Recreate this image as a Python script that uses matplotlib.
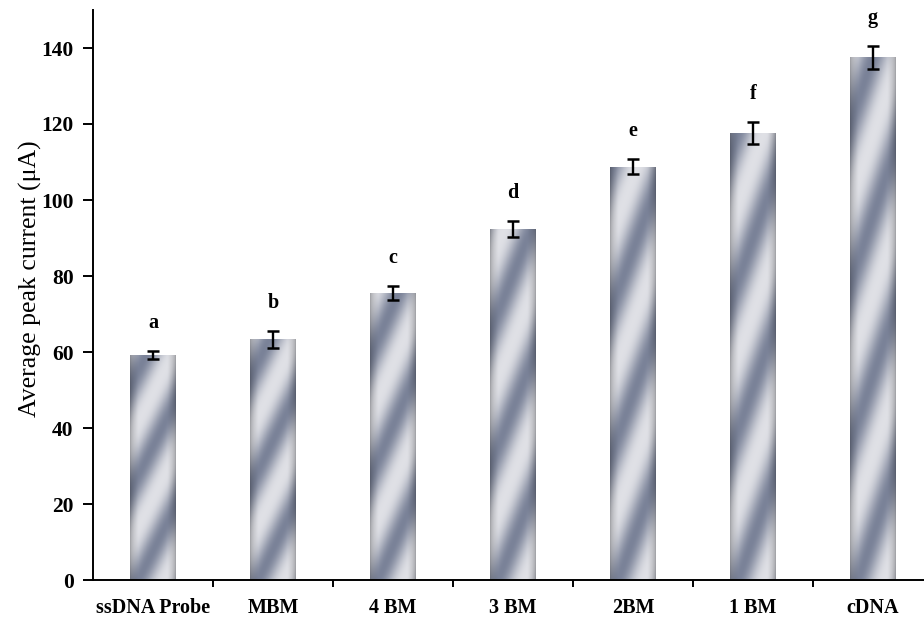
import numpy as np
import matplotlib
matplotlib.use("Agg")
import matplotlib.pyplot as plt
from matplotlib.colors import to_rgb

# Data
categories = ["ssDNA Probe", "MBM", "4 BM", "3 BM", "2BM", "1 BM", "cDNA"]
peak_current = [59.2, 63.3, 75.6, 92.4, 108.8, 117.7, 137.6]
errors = [1.0, 2.3, 1.9, 2.2, 2.0, 2.9, 3.0]
letters = ["a", "b", "c", "d", "e", "f", "g"]
y_ticks = [0, 20, 40, 60, 80, 100, 120, 140]

plt.rcParams["font.family"] = ["Liberation Serif", "DejaVu Serif"]

W, H = 924, 621
fig = plt.figure(figsize=(W / 100, H / 100), dpi=100)
ax = fig.add_axes([93 / W, 1 - 580 / H, 840 / W, 570 / H])

x = np.arange(len(categories))
bars = ax.bar(x, peak_current, width=0.38, color="none", edgecolor="none", zorder=2)

light = np.array(to_rgb("#ededf0"))
dark = np.array(to_rgb("#7a8298"))


def bar_texture(value, nrows=400, ncols=60):
    """Diagonal banded metallic gradient for one bar."""
    u = np.linspace(0, 1, ncols)[None, :]
    v = np.linspace(0, 1, nrows)[:, None]  # v=0 bottom
    cycles = 1.3 + value / 70.0
    phase = cycles * v - 0.85 * u
    t = 0.5 + 0.5 * np.cos(2 * np.pi * (phase + 0.15))
    t = 0.12 + 0.88 * t ** 1.3
    img = light[None, None, :] * (1 - t[..., None]) + dark[None, None, :] * t[..., None]
    # cylindrical shading toward the side edges
    edge = np.minimum(u, 1 - u)
    shade = 0.72 + 0.28 * np.clip(edge / 0.18, 0, 1) ** 0.6
    img = img * shade[..., None]
    return np.clip(img[::-1], 0, 1)


for patch, val in zip(bars.patches, peak_current):
    x0, w, h = patch.get_x(), patch.get_width(), patch.get_height()
    im = ax.imshow(bar_texture(val), extent=(x0, x0 + w, 0, h), origin="upper",
                   aspect="auto", interpolation="bilinear", zorder=2)
    im.set_clip_path(patch)

ax.errorbar(x, peak_current, yerr=errors, fmt="none", ecolor="black",
            elinewidth=1.7, capsize=4, capthick=1.8, zorder=3)

for xi, val, err, lab in zip(x, peak_current, errors, letters):
    ax.text(xi, val + err + 7.3, lab, ha="center", va="center",
            fontsize=14.5, fontweight="bold", color="black")

ax.set_xlim(-0.5, len(categories) - 0.5)
ax.set_ylim(0, 150)
ax.set_aspect("auto")

ax.spines["top"].set_visible(False)
ax.spines["right"].set_visible(False)
for s in ("left", "bottom"):
    ax.spines[s].set_linewidth(1.4)
    ax.spines[s].set_color("black")

ax.set_yticks(y_ticks)
ax.set_yticklabels([str(t) for t in y_ticks], fontsize=15.5, fontweight="bold")
ax.tick_params(axis="y", direction="out", length=7, width=1.4, pad=7)

ax.set_xticks(x)
ax.set_xticklabels(categories, fontsize=14.5, fontweight="bold")
ax.tick_params(axis="x", which="major", length=0, pad=13)
ax.set_xticks(np.arange(0.5, len(categories) - 0.5, 1.0), minor=True)
ax.tick_params(axis="x", which="minor", direction="out", length=5, width=1.4)

fig.text(30 / W, 1 - 279 / H, "Average peak current (\u03bcA)", rotation=90,
         ha="center", va="center", fontsize=18.5)

fig.savefig("out.png", dpi=100)
